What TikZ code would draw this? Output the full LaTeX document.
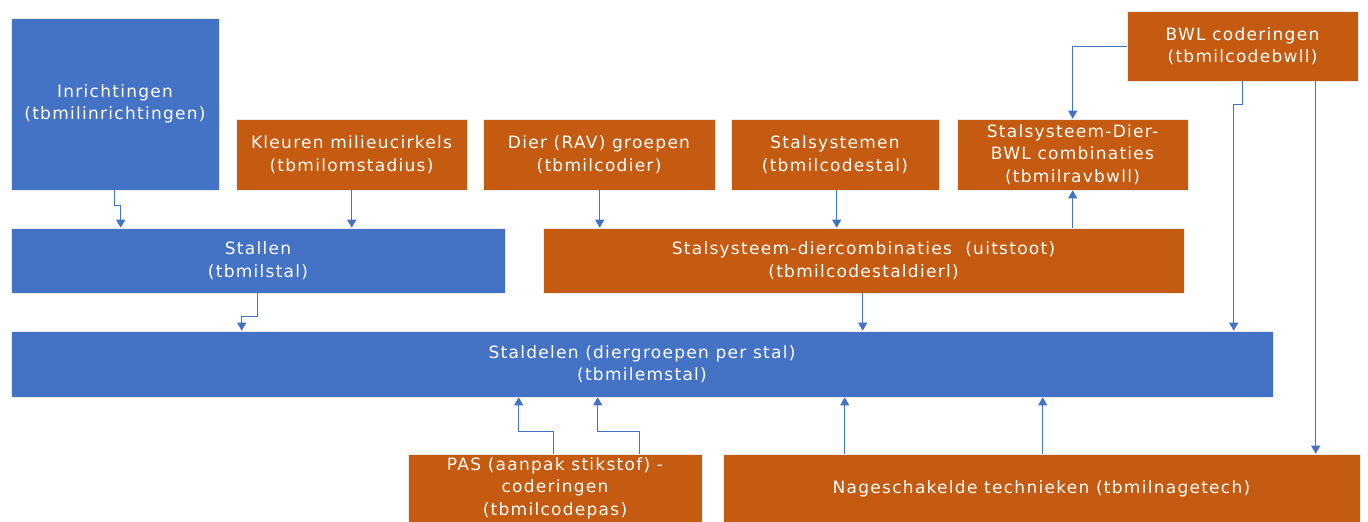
\documentclass[tikz,border=0pt]{standalone}
\usepackage{fontspec}
\setmainfont{DejaVu Sans}
\newfontfamily\boxfont[LetterSpace=7.5]{DejaVu Sans}
\usetikzlibrary{arrows.meta}
\definecolor{bblue}{HTML}{4472C4}
\definecolor{borange}{HTML}{C55A11}
\begin{document}
\begin{tikzpicture}[x=1pt,y=-1pt,
  boxtext/.style={text=white,align=center,inner sep=0pt,
    font=\boxfont\fontsize{17}{22.5}\selectfont},
  box/.style={boxtext,rectangle,draw=white!85!gray,line width=0.6pt},
  bbox/.style={box,fill=bblue},
  obox/.style={box,fill=borange},
  arr/.style={draw=bblue,line width=0.9pt,-{Triangle[width=9pt,length=8pt]}}]
\useasboundingbox (0,0) rectangle (1368,522);
\fill[white] (0,0) rectangle (1368,522);
% boxes
\node[bbox,minimum width=208pt,minimum height=172pt] (inr) at (115,104) {Inrichtingen\\(tbmilinrichtingen)};
\node[obox,minimum width=231pt,minimum height=71pt] (kleur) at (351.5,154.5) {Kleuren milieucirkels\\(tbmilomstadius)};
\node[obox,minimum width=232pt,minimum height=71pt] (dier) at (599,154.5) {Dier (RAV) groepen\\(tbmilcodier)};
\node[obox,minimum width=208pt,minimum height=71pt] (stsys) at (835,154.5) {Stalsystemen\\(tbmilcodestal)};
\node[obox,minimum width=231pt,minimum height=71pt] (sdb) at (1072.5,154.5) {Stalsysteem-Dier-\\BWL combinaties\\(tbmilravbwll)};
\node[obox,minimum width=231pt,minimum height=70pt] (bwl) at (1242.5,46) {BWL coderingen\\(tbmilcodebwll)};
\node[bbox,minimum width=494pt,minimum height=65pt] (stallen) at (258,260.5) {Stallen\\(tbmilstal)};
\node[obox,minimum width=641pt,minimum height=65pt] (sdc) at (863.5,260.5) {Stalsysteem-diercombinaties\ \ (uitstoot)\\(tbmilcodestaldierl)};
\node[bbox,minimum width=1262pt,minimum height=66pt] (staldelen) at (642,364) {Staldelen (diergroepen per stal)\\(tbmilemstal)};
\node[obox,minimum width=294pt,minimum height=80pt] (pas) at (555,494) {};
\node[boxtext] (pastext) at (555,488) {PAS (aanpak stikstof) -\\coderingen\\(tbmilcodepas)};
\node[obox,minimum width=637pt,minimum height=80pt] (nag) at (1041.5,494) {};
\node[boxtext] (nagtext) at (1041.5,489) {Nageschakelde technieken (tbmilnagetech)};
% connectors
\draw[arr] ([xshift=104pt]inr.south west) -- ++(0,15) -| ([xshift=110pt]stallen.north west);
\draw[arr] ([xshift=116pt]kleur.south west) -- ([xshift=341pt]stallen.north west);
\draw[arr] ([xshift=247pt]stallen.south west) -- ++(0,23) -| ([xshift=231pt]staldelen.north west);
\draw[arr] ([xshift=117pt]dier.south west) -- ([xshift=57pt]sdc.north west);
\draw[arr] ([xshift=106pt]stsys.south west) -- ++(0,23) -| ([xshift=294pt]sdc.north west);
\draw[arr] ([xshift=320pt]sdc.south west) -- ([xshift=852pt]staldelen.north west);
\draw[arr] ([xshift=530pt]sdc.north west) -- ([xshift=116pt]sdb.south west);
\draw[arr] (bwl.west) -| ([xshift=116pt]sdb.north west);
\draw[arr] ([xshift=116pt]bwl.south west) -- ++(0,23) -| ([xshift=1223pt]staldelen.north west);
\draw[arr] ([xshift=189pt]bwl.south west) -- ([xshift=593pt]nag.north west);
\draw[arr] ([xshift=146pt]pas.north west) -- ++(0,-22) -| ([xshift=508pt]staldelen.south west);
\draw[arr] ([xshift=232pt]pas.north west) -- ++(0,-22) -| ([xshift=587pt]staldelen.south west);
\draw[arr] ([xshift=122pt]nag.north west) -- ([xshift=834pt]staldelen.south west);
\draw[arr] ([xshift=320pt]nag.north west) -- ([xshift=1032pt]staldelen.south west);
\end{tikzpicture}
\end{document}
